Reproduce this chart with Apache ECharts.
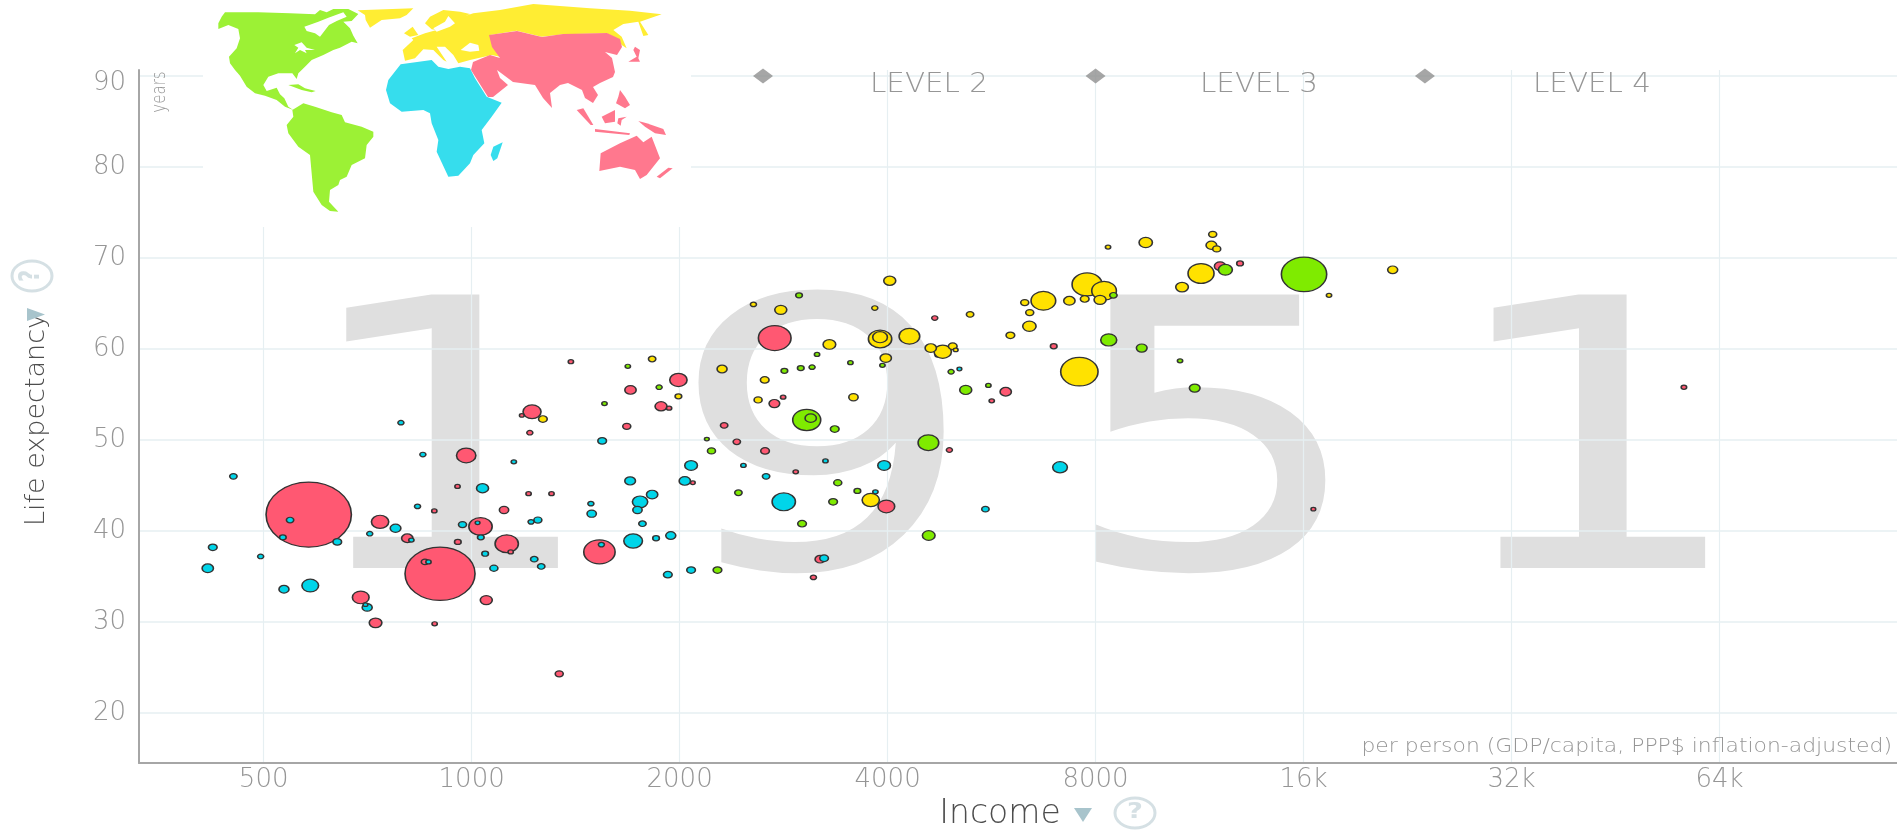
<!doctype html>
<html><head><meta charset="utf-8"><style>html,body{margin:0;background:#fff}#c{width:1897px;height:832px}</style>
<script src="https://cdn.jsdelivr.net/npm/echarts@6/dist/echarts.min.js"></script></head><body><div id="c"></div>
<script>
// [income per person, life expectancy, population-like bubble value]
const asia=[[581,41.8,728.2],[737,41.0,30.0],[807,39.2,12.8],[900,35.3,490.0],[982,48.3,37.4],[954,44.9,2.8],[883,42.2,2.8],[955,38.8,4.4],[856,36.6,5.4],[1030,40.5,54.4],[1114,42.3,8.7],[1124,38.6,54.4],[1139,37.7,2.8],[691,32.7,27.8],[726,29.9,16.0],[1050,32.4,14.4],[884,29.8,2.8],[1223,53.1,32.4],[1182,52.7,2.2],[1214,50.8,3.6],[1392,58.6,2.8],[1698,55.5,12.8],[1677,51.5,6.4],[1992,56.6,30.0],[1880,53.7,14.4],[1931,53.5,2.8],[2320,51.6,5.4],[2420,49.8,5.4],[2659,48.8,7.5],[2743,54.0,11.4],[2824,54.7,2.8],[2746,61.2,106.7],[4681,63.4,3.6],[4723,59.3,2.2],[4915,48.9,3.6],[2945,46.5,2.8],[3984,42.7,27.8],[2090,45.3,2.2],[1209,44.1,2.8],[1305,44.1,2.8],[1531,37.7,98.2],[3194,36.9,10.0],[3124,34.9,3.6],[5660,54.3,2.8],[2995,52.1,1.6],[5930,55.3,12.8],[6959,60.3,4.4],[12114,69.1,12.8],[12948,69.4,4.4],[16533,42.4,2.2],[1339,24.3,6.4],[56850,55.8,3.0]];
const africa=[[452,46.0,5.4],[790,51.9,3.6],[850,48.4,3.6],[835,42.7,3.6],[1037,44.7,14.4],[1151,47.6,2.8],[546,41.2,5.4],[533,39.3,4.4],[639,38.8,7.5],[712,39.7,3.6],[776,40.3,11.4],[818,39.0,2.8],[970,40.7,6.4],[1020,40.9,2.2],[1031,39.3,4.4],[422,38.2,7.5],[415,35.9,12.8],[495,37.2,3.6],[535,33.6,10.0],[584,34.0,27.8],[706,31.6,10.0],[702,31.9,2.2],[1046,37.5,4.4],[1077,35.9,6.4],[866,36.6,2.8],[1545,49.9,7.5],[2078,47.2,16.0],[1696,45.5,11.4],[2035,45.5,12.8],[2474,47.2,2.8],[2668,46.0,5.4],[3252,47.7,2.8],[3954,47.2,16.0],[1825,44.0,12.8],[1753,43.2,23.5],[1738,42.3,8.7],[1488,43.0,3.6],[1492,41.9,8.7],[1247,41.2,6.4],[1219,41.0,3.6],[1767,40.8,5.4],[1942,39.5,10.0],[1713,38.9,34.8],[1849,39.2,4.4],[1541,38.5,3.6],[1232,36.9,5.4],[1261,36.1,5.4],[1923,35.2,7.5],[2078,35.7,7.5],[2830,43.2,54.4],[3237,37.0,7.5],[3841,44.3,2.8],[5542,42.4,5.4],[5082,57.8,2.2],[7107,47.0,21.5]];
const europe=[[1268,52.3,7.5],[1825,58.9,5.4],[1992,54.8,4.4],[2304,57.8,10.0],[2558,64.9,3.6],[2802,64.3,14.4],[3833,64.5,3.6],[4029,67.5,14.4],[5266,63.8,5.4],[3295,60.5,16.0],[3901,61.1,54.4],[3901,61.3,21.5],[4302,61.4,42.7],[4619,60.1,12.8],[4807,59.7,30.0],[4970,60.3,7.5],[5020,59.9,2.2],[3976,59.0,12.8],[2656,56.6,7.5],[2598,54.4,6.4],[3570,54.7,8.7],[3782,43.4,30.0],[6023,61.5,7.5],[6417,62.5,17.8],[6424,64.0,6.4],[6318,65.1,6.4],[6723,65.3,60.8],[7332,65.3,12.8],[7716,65.5,7.5],[7777,67.1,90.0],[8230,66.4,60.8],[8121,65.4,14.4],[8340,71.2,2.8],[9456,71.7,17.8],[11821,72.6,6.4],[11769,71.4,11.4],[11980,71.0,6.4],[10673,66.8,16.0],[11370,68.3,67.6],[21536,68.7,10.0],[17419,65.9,2.8],[7580,57.5,139.4]];
const americas=[[1557,54.0,2.8],[1683,58.1,2.8],[1868,55.8,3.6],[2190,50.1,2.2],[2224,48.8,6.4],[2433,44.2,5.4],[2978,65.9,4.4],[3162,59.4,2.8],[2836,57.6,4.4],[2995,57.9,4.4],[3110,58.0,3.6],[3534,58.5,2.8],[3932,58.2,2.8],[4943,57.5,3.6],[5190,55.5,14.4],[5597,56.0,2.8],[3055,52.2,78.4],[3096,52.4,12.8],[3354,51.2,7.5],[4583,49.7,42.7],[3388,45.3,6.4],[3617,44.4,4.4],[3336,43.2,7.5],[3008,40.8,7.5],[4588,39.5,16.0],[2269,35.7,7.5],[8490,65.9,5.4],[8359,61.0,25.6],[9331,60.1,11.4],[10602,58.7,2.8],[11133,55.7,11.4],[12331,68.7,19.6],[16027,68.2,205.5]];
const levelMarks=[[2641,90],[8000,90],[23980,90]];
const incomeTicks=[500,1000,2000,4000,8000,16000,32000,64000];
const incomeTickLabels=['500','1000','2000','4000','8000','16k','32k','64k'];
const lifeTicks=[20,30,40,50,60,70,80,90];

// Map outline traced for the inset legend (decoration, not data). Each: colour, [x0,y0,scale], outline
const G='#9cf135',Y='#ffed33',C='#36dded',P='#ff788e',W='#ffffff';
const OA=[205,5,1/3],OB=[390,0,1/3],OC=[380,55,1/3],ABS=[0,0,1];
const mapShapes=[
 [G,OA,[[60,22],[160,22],[255,25],[330,28],[345,15],[365,22],[385,12],[430,12],[460,27],[440,48],[415,50],[435,70],[445,92],[458,115],[440,110],[405,128],[385,135],[355,150],[320,165],[300,185],[280,205],[275,222],[262,205],[220,205],[190,215],[175,240],[185,258],[215,248],[225,268],[238,280],[250,305],[265,315],[240,305],[215,285],[180,272],[150,265],[125,245],[105,212],[90,195],[75,175],[72,155],[95,130],[105,100],[100,72],[70,60],[40,72],[40,55],[50,35]]],
 [W,OA,[[298,65],[340,50],[370,38],[415,22],[425,35],[395,48],[372,60],[345,95],[330,85],[305,78]]],
 [W,OA,[[268,120],[290,112],[305,128],[330,135],[300,135],[305,145],[285,135],[270,145],[280,128]]],
 [W,OA,[[95,200],[110,235],[100,225]]],
 [G,OA,[[250,240],[280,238],[300,250],[332,258],[320,262],[290,255]]],
 [G,OA,[[262,315],[295,295],[330,305],[380,322],[410,330],[420,352],[470,365],[505,380],[505,395],[485,420],[480,460],[440,480],[425,515],[405,525],[400,540],[375,555],[372,590],[400,620],[375,618],[350,600],[325,560],[315,450],[280,425],[250,385],[245,360],[265,335]]],
 [Y,OA,[[458,16],[625,10],[605,30],[585,40],[530,45],[495,68],[482,45],[480,30]]],
 [Y,OB,[[42,100],[68,80],[85,105],[60,110]]],
 [Y,OB,[[38,150],[70,120],[65,115],[105,100],[140,90],[125,88],[105,70],[120,50],[160,30],[210,35],[240,42],[225,48],[250,40],[330,30],[430,12],[470,15],[600,25],[720,32],[815,43],[780,55],[750,65],[775,105],[760,108],[745,65],[700,72],[670,90],[695,110],[710,145],[695,135],[685,118],[650,100],[520,103],[455,110],[380,92],[300,105],[310,130],[330,170],[305,165],[240,180],[205,190],[190,165],[165,140],[140,140],[170,185],[160,180],[130,150],[100,148],[75,175],[45,182]]],
 [W,OB,[[175,48],[195,70],[180,80],[140,95],[130,85],[165,65]]],
 [W,OB,[[212,150],[240,128],[265,135],[268,152],[240,155]]],
 [C,OC,[[62,28],[155,15],[175,35],[205,42],[240,35],[270,40],[285,70],[320,125],[365,143],[335,185],[305,225],[313,265],[280,300],[270,325],[235,362],[205,365],[170,290],[175,255],[155,205],[150,175],[130,165],[65,170],[30,145],[18,105],[25,75]]],
 [C,OC,[[368,262],[352,310],[340,318],[332,300],[340,275]]],
 [P,ABS,[[489,35],[517,31],[542,37],[563,34],[607,33],[620,39],[622,47],[617,55],[605,52],[612,58],[615,72],[613,77],[600,83],[593,87],[598,95],[593,103],[585,98],[582,90],[568,83],[560,85],[550,93],[552,108],[543,98],[535,85],[513,82],[497,70],[500,78],[508,85],[493,97],[488,97],[471,70],[473,62],[490,55],[500,58],[492,47]]],
 [P,OB,[[735,140],[750,150],[745,175],[750,185],[715,185],[740,170],[730,150]]],
 [P,OC,[[590,165],[610,160],[640,210],[632,210]]],
 [P,OC,[[720,105],[735,125],[750,150],[735,160],[708,145],[715,125]]],
 [P,OC,[[665,185],[705,165],[705,200],[675,205]]],
 [P,OC,[[715,190],[740,185],[725,195],[722,212],[712,205]]],
 [P,OC,[[645,222],[750,235],[748,240],[645,230]]],
 [P,OC,[[775,198],[800,205],[850,222],[858,240],[825,235],[795,215]]],
 [P,OC,[[662,295],[720,265],[770,242],[790,262],[815,245],[840,310],[800,360],[780,372],[765,345],[720,335],[658,348]]],
 [P,OC,[[878,340],[840,370],[830,365],[865,338]]]
];
const FONT='DejaVu Sans';
const ELLIPSE='path://M0,-100A100,100 0 1 1 0,100A100,100 0 1 1 0,-100Z';
const bubbleSize=v=>{const w=Math.sqrt(v[2]*10);return [w,w/1.31];};
function bubbles(name,rows,color){return {name,type:'scatter',symbol:ELLIPSE,symbolSize:bubbleSize,
  data:rows.slice().sort((a,b)=>b[2]-a[2]),itemStyle:{color,borderColor:'#333',borderWidth:1.4,opacity:1},emphasis:{disabled:true},silent:true};}
const gridColor='#e6eff2',txt='#969696';
const digitToken=w=>({width:w,align:'center',fontSize:375,fontFamily:FONT,fill:'#dfdfdf'});
const lightText=(x,y,text,size,sx,extra)=>({type:'text',x,y,scaleX:sx,z:3,silent:true,style:Object.assign({text,fontSize:size,fontFamily:FONT,fontWeight:200,fill:txt,align:'left',verticalAlign:'middle'},extra||{})});
const graphics=[
 {type:'text',x:258,y:283,scaleX:1.3,z:-1,silent:true,style:{text:'{a|1}{b|9}{c|5}{d|1}',rich:{a:digitToken(292),b:digitToken(285),c:digitToken(315),d:digitToken(273)}}},
 {type:'rect',z:5,silent:true,shape:{x:203,y:0,width:488,height:227},style:{fill:'#fff'}},
 ...mapShapes.map((s,i)=>({type:'polygon',x:s[1][0],y:s[1][1],scaleX:s[1][2],scaleY:s[1][2],z:6,z2:i,silent:true,shape:{points:s[2]},style:{fill:s[0]}})),
 lightText(870,85,'LEVEL 2',26,1.13),lightText(1200,85,'LEVEL 3',26,1.13),lightText(1533,85,'LEVEL 4',26,1.13),
 lightText(1892,747,'per person (GDP/capita, PPP$ inflation-adjusted)',19,1.153,{align:'right'}),
 {type:'text',x:160,y:92,rotation:Math.PI/2,scaleY:1.31,z:3,silent:true,style:{text:'years',fontSize:15,fontFamily:FONT,fontWeight:200,fill:txt,align:'center',verticalAlign:'middle'}},
 {type:'polygon',z:3,silent:true,shape:{points:[[1074,808],[1092,808],[1083,822]]},style:{fill:'#a8c4cc'}},
 {type:'ellipse',z:3,silent:true,shape:{cx:1135,cy:813,rx:20,ry:15},style:{fill:'none',stroke:'#d5e0e4',lineWidth:3}},
 {type:'text',x:1135,y:813,scaleX:1.31,z:3,silent:true,style:{text:'?',fontSize:21,fontFamily:FONT,fontWeight:'bold',fill:'#d5e0e4',align:'center',verticalAlign:'middle'}},
 {type:'polygon',z:3,silent:true,shape:{points:[[27,308],[27,321],[45,314.5]]},style:{fill:'#a8c4cc'}},
 {type:'ellipse',z:3,silent:true,shape:{cx:32,cy:276,rx:20,ry:15},style:{fill:'none',stroke:'#d5e0e4',lineWidth:3}},
 {type:'text',x:32,y:276,rotation:Math.PI/2,scaleY:1.31,z:3,silent:true,style:{text:'?',fontSize:21,fontFamily:FONT,fontWeight:'bold',fill:'#d5e0e4',align:'center',verticalAlign:'middle'}}
];
const chart=echarts.init(document.getElementById('c'),null,{renderer:'canvas'});
chart.setOption({
 animation:false,
 grid:{left:139,right:0,top:70,bottom:69,containLabel:false,outerBoundsMode:'none'},
 xAxis:{type:'log',logBase:2,min:330,max:115650,
  name:'Income',nameLocation:'middle',nameGap:35,
  nameTextStyle:{fontFamily:FONT,fontWeight:200,fontSize:33,color:'#4d4d4d',padding:[0,36,0,0]},
  axisLine:{show:true,lineStyle:{color:'#a6a6a6',width:2}},axisTick:{show:false,customValues:incomeTicks},
  axisLabel:{customValues:incomeTicks,formatter:v=>incomeTickLabels[incomeTicks.indexOf(Math.round(v))],fontFamily:FONT,fontWeight:200,fontSize:26,color:txt,margin:4},
  splitLine:{show:true,customValues:incomeTicks,lineStyle:{color:gridColor,width:1.2}},minorTick:{show:false},minorSplitLine:{show:false}},
 yAxis:{type:'value',min:14.5,max:90.66,
  name:'Life expectancy',nameLocation:'middle',nameGap:89,nameRotate:90,
  nameTextStyle:{fontFamily:FONT,fontWeight:200,fontSize:27,color:'#4d4d4d',padding:[0,6,0,0]},
  axisLine:{show:true,lineStyle:{color:'#a6a6a6',width:2}},axisTick:{show:false,customValues:lifeTicks},
  axisLabel:{customValues:lifeTicks,fontFamily:FONT,fontWeight:200,fontSize:26,color:txt,margin:13,
   formatter:v=>v===90?'{low|90}':String(v),rich:{low:{fontFamily:FONT,fontWeight:200,fontSize:26,color:txt,padding:[14,0,0,0]}}},
  splitLine:{show:true,customValues:lifeTicks,lineStyle:{color:gridColor,width:1.6}}},
 series:[bubbles('Asia',asia,'#ff5872'),bubbles('Africa',africa,'#00d5e9'),bubbles('Europe',europe,'#ffe200'),bubbles('Americas',americas,'#7feb00'),
  {name:'Levels',type:'scatter',symbol:'diamond',symbolSize:[20,15],data:levelMarks,itemStyle:{color:'#909090'},silent:true}],
 graphic:{elements:graphics}
});
</script></body></html>
